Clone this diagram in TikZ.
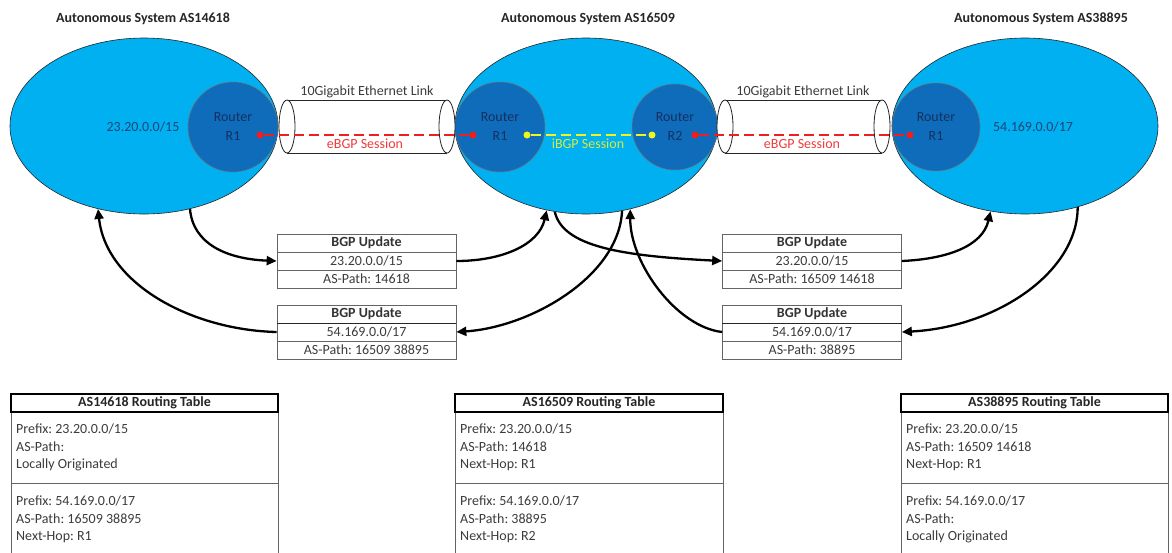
\documentclass[tikz,border=0pt]{standalone}
\usepackage{fontspec}
\setmainfont{Carlito}
\frenchspacing
\usetikzlibrary{shapes.geometric,arrows.meta,calc}
\definecolor{asblue}{RGB}{0,176,240}
\definecolor{rtblue}{RGB}{14,108,186}
\definecolor{rttext}{RGB}{22,48,96}
\definecolor{pfx}{RGB}{25,70,120}
\definecolor{txt}{RGB}{60,60,60}
\definecolor{ibgp}{RGB}{240,245,30}
\definecolor{ibgptxt}{RGB}{215,235,60}
\definecolor{ebgp}{RGB}{240,30,30}
\definecolor{ebgptxt}{RGB}{240,60,60}
\definecolor{boxline}{RGB}{100,100,100}
\begin{document}
\begin{tikzpicture}[x=1pt,y=-1pt,
  every node/.style={font=\fontsize{14}{17.5}\selectfont},
  asell/.style={ellipse, draw=black!85, line width=0.6pt, fill=asblue, inner sep=0pt, minimum height=176pt},
  router/.style={circle, draw=black!55, line width=0.5pt, fill=rtblue, minimum size=90pt, inner sep=0pt, align=center, text=rttext, font=\fontsize{14}{19}\selectfont},
  pfxtext/.style={text=pfx, inner sep=0pt},
  title/.style={font=\fontsize{14}{17}\selectfont\bfseries, text=black!85, inner sep=0pt},
  linklabel/.style={text=txt, inner sep=0pt},
  sesslabel/.style={inner sep=0pt},
  edot/.style={circle, fill=ebgp, inner sep=0pt, minimum size=7pt},
  ydot/.style={circle, fill=ibgp, inner sep=0pt, minimum size=7pt},
  ebgpline/.style={draw=ebgp, line width=2pt, dash pattern=on 10pt off 5pt},
  ibgpline/.style={draw=ibgp, line width=2pt, dash pattern=on 10pt off 5pt},
  updrow/.style={draw=boxline, line width=0.7pt, minimum width=179pt, minimum height=18pt, inner sep=0pt, text=txt, fill=white},
  updhead/.style={updrow, font=\fontsize{14}{17}\selectfont\bfseries, text=black!80},
  flow/.style={line width=2.3pt, -{Triangle[length=10pt,width=9pt]}},
  tabhead/.style={draw=black, line width=1.1pt, minimum width=267pt, minimum height=18pt, inner sep=0pt, font=\fontsize{14}{17}\selectfont\bfseries, text=black!85},
  tabbody/.style={draw=boxline, line width=0.8pt, minimum width=267pt, inner sep=0pt},
  tabtext/.style={anchor=west, align=left, inner sep=0pt, text=txt},
  cyl/.style={draw=black!85, line width=0.8pt}
]
\useasboundingbox (0,0) rectangle (1172,552);
\fill[white] (0,0) rectangle (1172,552);

% titles
\node[title] (t1) at (143,19) {Autonomous System AS14618};
\node[title] (t2) at (588,19) {Autonomous System AS16509};
\node[title] (t3) at (1041,19) {Autonomous System AS38895};

% autonomous systems
\node[asell, minimum width=268pt] (as1) at (144,126) {};
\node[asell, minimum width=262pt] (as2) at (586,126) {};
\node[asell, minimum width=266pt] (as3) at (1025,126) {};

% routers
\node[router] (r11) at (233,127) {Router\\R1};
\node[router] (r21) at (500,127) {Router\\R1};
\node[router, minimum size=86pt] (r22) at (675,127) {Router\\R2};
\node[router, minimum size=88pt] (r31) at (936,127) {Router\\R1};

\node[pfxtext] (p1) at (143,127) {23.20.0.0/15};
\node[pfxtext] (p3) at (1033,127) {54.169.0.0/17};

% links (cylinders)
\foreach \a/\b in {287/447, 725/882} {
  \fill[white] (\a,100) rectangle (\b,153);
  \draw[cyl] (\a,100) -- (\b,100);
  \draw[cyl] (\a,153) -- (\b,153);
  \draw[cyl, fill=white] (\a,126.5) ellipse [x radius=8pt, y radius=26.5pt];
  \draw[cyl, fill=white] (\b,126.5) ellipse [x radius=8pt, y radius=26.5pt];
}
\node[linklabel] (c1l) at (367,92) {10Gigabit Ethernet Link};
\node[linklabel] (c2l) at (803,92) {10Gigabit Ethernet Link};

% sessions
\node[edot] (d1) at (260,135) {};
\node[edot] (d2) at (473,135) {};
\node[edot] (d5) at (695,135) {};
\node[edot] (d6) at (910,135) {};
\node[ydot] (y1) at (527,135) {};
\node[ydot] (y2) at (652,135) {};
\draw[ebgpline] (d1) -- (d2);
\draw[ebgpline] (d5) -- (d6);
\draw[ibgpline] (y1) -- (y2);
\node[sesslabel, text=ebgptxt] (s1) at (365,144) {eBGP Session};
\node[sesslabel, text=ebgptxt] (s2) at (802,144) {eBGP Session};
\node[sesslabel, text=ibgptxt] (s3) at (588,144) {iBGP Session};

% BGP update boxes
\node[updhead] (uAh) at (366.5,243) {BGP Update};
\node[updrow]  (uAm) at (366.5,261) {23.20.0.0/15};
\node[updrow]  (uAb) at (366.5,279) {AS-Path: 14618};
\node[updhead] (uBh) at (366.5,314) {BGP Update};
\node[updrow]  (uBm) at (366.5,332) {54.169.0.0/17};
\node[updrow]  (uBb) at (366.5,350) {AS-Path: 16509 38895};
\node[updhead] (uCh) at (812,243) {BGP Update};
\node[updrow]  (uCm) at (812,261) {23.20.0.0/15};
\node[updrow]  (uCb) at (812,279) {AS-Path: 16509 14618};
\node[updhead] (uDh) at (812,314) {BGP Update};
\node[updrow]  (uDm) at (812,332) {54.169.0.0/17};
\node[updrow]  (uDb) at (812,350) {AS-Path: 38895};
\draw[line width=1.3pt, black!85] (uBh.south west) -- (uBh.south east);
\draw[line width=1.3pt, black!85] (uDh.south west) -- (uDh.south east);

% update flows
\draw[flow] (as1.-61) .. controls +(3,35) and +(-50,-2) .. (uAm.west);
\draw[flow] (uBm.west) .. controls +(-85,-2) and +(8,75) .. (as1.-119);
\draw[flow] (uAm.east) .. controls +(45,0) and +(-8,35) .. (as2.-115);
\draw[flow] (as2.-110) .. controls +(8,35) and +(-100,-5) .. (uCm.west);
\draw[flow] (as2.-67) .. controls +(-3,65) and +(75,-5) .. (uBm.east);
\draw[flow] (uDm.west) .. controls +(-45,-5) and +(0,55) .. (as2.-62);
\draw[flow] (uCm.east) .. controls +(45,-2) and +(-8,35) .. (as3.-112);
\draw[flow] (as3.-57) .. controls +(0,65) and +(95,-5) .. (uDm.east);

% routing tables
\node[tabbody, minimum height=71pt] (tb11) at (144.5,447.5) {};
\node[tabbody, minimum height=73pt] (tb12) at (144.5,519.5) {};
\node[tabhead] (th1) at (144.5,403) {AS14618 Routing Table};
\node[tabtext] (x11) at (16,447.5) {Prefix: 23.20.0.0/15\\AS-Path:\\Locally Originated};
\node[tabtext] (x12) at (16,519.5) {Prefix: 54.169.0.0/17\\AS-Path: 16509 38895\\Next-Hop: R1};

\node[tabbody, minimum height=71pt, minimum width=268pt] (tb21) at (589,447.5) {};
\node[tabbody, minimum height=73pt, minimum width=268pt] (tb22) at (589,519.5) {};
\node[tabhead, minimum width=268pt] (th2) at (589,403) {AS16509 Routing Table};
\node[tabtext] (x21) at (460,447.5) {Prefix: 23.20.0.0/15\\AS-Path: 14618\\Next-Hop: R1};
\node[tabtext] (x22) at (460,519.5) {Prefix: 54.169.0.0/17\\AS-Path: 38895\\Next-Hop: R2};

\node[tabbody, minimum height=71pt] (tb31) at (1034.5,447.5) {};
\node[tabbody, minimum height=73pt] (tb32) at (1034.5,519.5) {};
\node[tabhead] (th3) at (1034.5,403) {AS38895 Routing Table};
\node[tabtext] (x31) at (906,447.5) {Prefix: 23.20.0.0/15\\AS-Path: 16509 14618\\Next-Hop: R1};
\node[tabtext] (x32) at (906,519.5) {Prefix: 54.169.0.0/17\\AS-Path:\\Locally Originated};
\end{tikzpicture}
\end{document}
